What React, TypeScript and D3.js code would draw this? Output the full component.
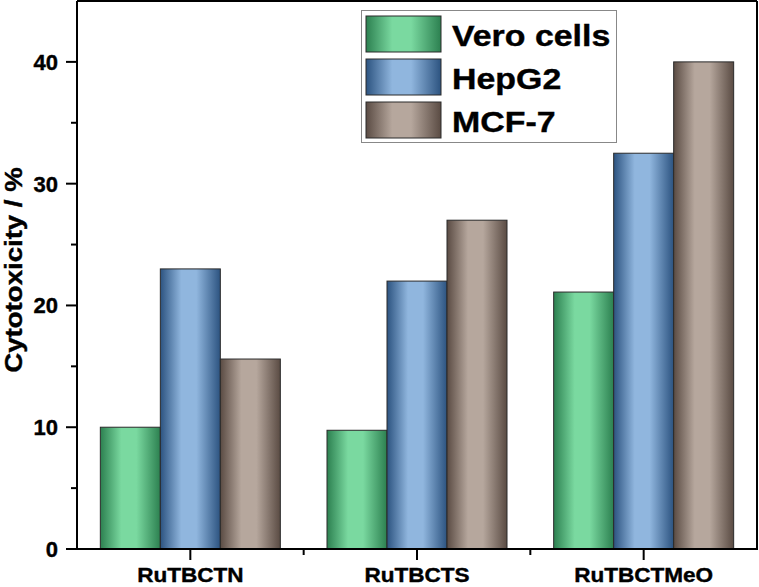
import React from "react";
import * as d3 from "d3";

const categories = ["RuTBCTN", "RuTBCTS", "RuTBCTMeO"];
const seriesNames = ["Vero cells", "HepG2", "MCF-7"];
const veroValues = [10.0, 9.75, 21.1];
const hepg2Values = [23.0, 22.0, 32.5];
const mcf7Values = [15.6, 27.0, 40.0];
const yTicks = [0, 10, 20, 30, 40];
const yMinorTicks = [5, 15, 25, 35];

const palettes = [
  { dark: "#2c8050", light: "#7ad9a0", id: "gGreen" },
  { dark: "#2c5380", light: "#90b6de", id: "gBlue" },
  { dark: "#5a4b43", light: "#b6a79d", id: "gBrown" },
];

const W = 759;
const H = 587;
const left = 77;
const right = 757;
const top = 1;
const bottom = 549;

export default function App() {
  const x = d3.scaleBand().domain(categories).range([left, right]).padding(0);
  const y = d3.scaleLinear().domain([0, 45]).range([bottom, top]);
  const allSeries = [veroValues, hepg2Values, mcf7Values];
  const bw = 60;
  const font = "'Liberation Sans', Arial, sans-serif";
  const heavy = { stroke: "#000", strokeWidth: 0.4 };

  return (
    <svg
      width={W}
      height={H}
      style={{ position: "absolute", left: 0, top: 0 }}
      fontFamily={font}
    >
      <defs>
        {palettes.map((p) => (
          <linearGradient key={p.id} id={p.id} x1="0" x2="1" y1="0" y2="0">
            <stop offset="0" stopColor={p.dark} />
            <stop offset="0.35" stopColor={p.light} />
            <stop offset="0.6" stopColor={p.light} />
            <stop offset="1" stopColor={p.dark} />
          </linearGradient>
        ))}
      </defs>
      <rect x={0} y={0} width={W} height={H} fill="#fff" />
      {categories.map((c, ci) => {
        const center = (x(c) as number) + x.bandwidth() / 2;
        return seriesNames.map((s, si) => {
          const v = allSeries[si][ci];
          const bx = center - (bw * 3) / 2 + si * bw;
          return (
            <rect
              key={c + s}
              x={bx}
              y={y(v)}
              width={bw}
              height={y(0) - y(v)}
              fill={`url(#${palettes[si].id})`}
              stroke="#2a2a2a"
              strokeWidth={1}
            />
          );
        });
      })}
      <line x1={left} x2={right} y1={top} y2={top} stroke="#000" strokeWidth={2} />
      <line x1={right} x2={right} y1={top} y2={bottom} stroke="#000" strokeWidth={2} />
      <line x1={left} x2={left} y1={top} y2={bottom + 1} stroke="#000" strokeWidth={2} />
      <line x1={left - 1} x2={right + 1} y1={bottom} y2={bottom} stroke="#000" strokeWidth={2} />
      {yTicks.map((t) => (
        <g key={"y" + t}>
          <line x1={left - 11} x2={left} y1={y(t)} y2={y(t)} stroke="#000" strokeWidth={2} />
          <text
            x={left - 19}
            y={y(t) + 8}
            textAnchor="end"
            fontSize={22}
            fontWeight="bold"
            {...heavy}
          >
            {t}
          </text>
        </g>
      ))}
      {yMinorTicks.map((t) => (
        <line key={"ym" + t} x1={left - 6} x2={left} y1={y(t)} y2={y(t)} stroke="#000" strokeWidth={2} />
      ))}
      {categories.map((c) => {
        const cx = (x(c) as number) + x.bandwidth() / 2;
        return (
          <g key={"x" + c}>
            <line x1={cx} x2={cx} y1={bottom} y2={bottom + 11} stroke="#000" strokeWidth={2} />
            <g transform={`translate(${cx},582) scale(1.1,1)`}>
              <text x={0} y={0} textAnchor="middle" fontSize={20.5} fontWeight="bold" {...heavy}>
                {c}
              </text>
            </g>
          </g>
        );
      })}
      {categories.slice(1).map((c) => {
        const bxx = x(c) as number;
        return (
          <line key={"xm" + c} x1={bxx} x2={bxx} y1={bottom} y2={bottom + 6} stroke="#000" strokeWidth={2} />
        );
      })}
      <g transform={`translate(22,270) rotate(-90) scale(1.15,1)`}>
        <text x={0} y={0} textAnchor="middle" fontSize={24} fontWeight="bold" {...heavy}>
          Cytotoxicity / %
        </text>
      </g>
      <rect x={361.5} y={10.5} width={255} height={132} fill="#fff" stroke="#888" strokeWidth={1} />
      {seriesNames.map((s, i) => {
        const yy = 16 + i * 43;
        return (
          <g key={"lg" + s}>
            <rect
              x={366}
              y={yy}
              width={75}
              height={36}
              fill={`url(#${palettes[i].id})`}
              stroke="#2a2a2a"
              strokeWidth={1}
            />
            <g transform={`translate(452,${yy + 30}) scale(1.13,1)`}>
              <text x={0} y={0} fontSize={30} fontWeight="bold" {...heavy}>
                {s}
              </text>
            </g>
          </g>
        );
      })}
    </svg>
  );
}
